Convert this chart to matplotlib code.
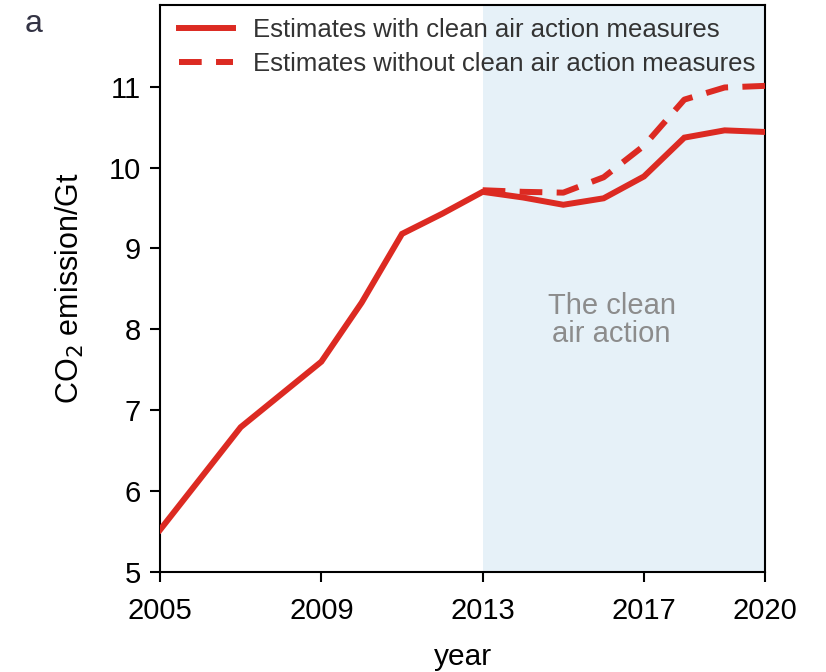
import numpy as np
import matplotlib.pyplot as plt

plt.rcParams['font.family'] = ['Liberation Sans', 'DejaVu Sans']

# CO2 emission estimates (Gt)
years = [2005, 2007, 2009, 2010, 2011, 2012, 2013, 2014, 2015, 2016, 2017, 2018, 2019, 2020]
with_action = [5.52, 6.79, 7.60, 8.33, 9.18, 9.43, 9.70, 9.63, 9.54, 9.62, 9.89, 10.37, 10.46, 10.44]

years_no = [2013, 2014, 2015, 2016, 2017, 2018, 2019, 2020]
without_action = [9.72, 9.70, 9.69, 9.88, 10.27, 10.84, 10.99, 11.01]

xticks = [2005, 2009, 2013, 2017, 2020]
yticks = [5, 6, 7, 8, 9, 10, 11]

red = '#dc2a22'

fig = plt.figure(figsize=(8.26, 6.72), dpi=100)
ax = fig.add_axes([0.1937, 0.1488, 0.7324, 0.8438])

ax.axvspan(2013, 2020, color='#e6f1f8', zorder=0, lw=0)
ax.text(2016.2, 8.12, 'The clean\nair action', ha='center', va='center',
        fontsize=21, color='#8c8c8c', linespacing=1.0)

ax.plot(years, with_action, color=red, lw=4.3, solid_joinstyle='miter',
        label='Estimates with clean air action measures', zorder=3)
ax.plot(years_no, without_action, color=red, lw=4.3, dashes=(3.8, 2.4),
        label='Estimates without clean air action measures', zorder=3)

ax.set_xlim(2005, 2020)
ax.set_ylim(5, 12.01)
ax.set_xticks(xticks)
ax.set_yticks(yticks)
ax.tick_params(direction='out', length=7, width=1.5, labelsize=21)
ax.tick_params(axis='x', pad=11)
ax.tick_params(axis='y', pad=7)
for s in ax.spines.values():
    s.set_linewidth(1.5)

ax.set_xlabel('year', fontsize=21.5, labelpad=13)
ax.set_ylabel('CO$_2$ emission/Gt', fontsize=22, labelpad=16)

leg = ax.legend(loc='upper left', frameon=False, fontsize=18.5, handlelength=2.1,
                borderaxespad=0.1, bbox_to_anchor=(0.01, 1.0), labelspacing=0.4,
                handletextpad=0.8)
for t in leg.get_texts():
    t.set_color('#333333')

fig.text(0.03, 0.965, 'a', fontsize=23, color='#333344', va='center')

fig.savefig('out.png', dpi=100)
